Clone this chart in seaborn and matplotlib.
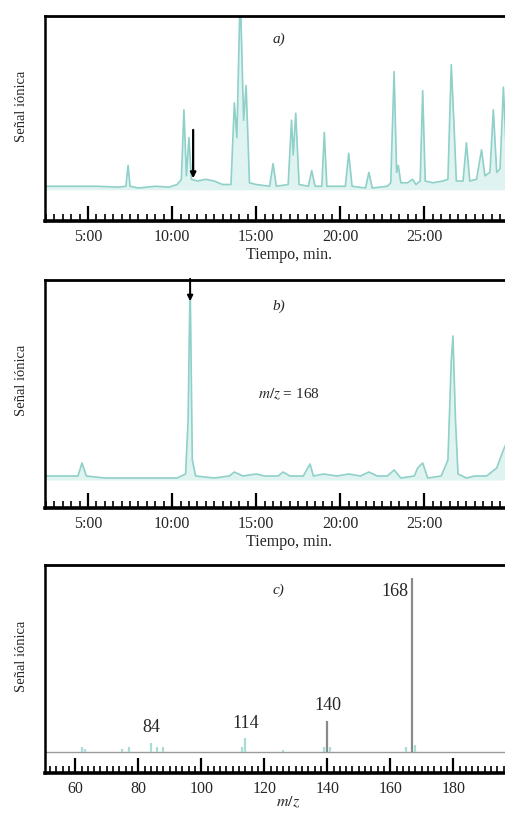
"""
Chromatograms (a, b) and mass spectrum (c) - Señal iónica.
"""

import matplotlib.pyplot as plt
import matplotlib.ticker as mticker
import pandas as pd
import seaborn as sns

# --- panel a: total ion chromatogram (time in min, relative signal)
tic_time = [2.5, 4.0, 5.5, 6.8, 7.25, 7.38, 7.5, 8.0, 9.0, 9.8, 10.3, 10.55, 10.7,
            10.85, 11.0, 11.15, 11.5, 12.0, 12.5, 13.0, 13.5, 13.7, 13.85, 14.05,
            14.25, 14.4, 14.6, 15.0, 15.8, 16.0, 16.2, 16.9, 17.1, 17.2, 17.35,
            17.55, 18.1, 18.3, 18.5, 18.9, 19.05, 19.2, 20.3, 20.5, 20.7, 21.5,
            21.7, 21.9, 22.8, 23.0, 23.2, 23.35, 23.45, 23.6, 24.0, 24.3, 24.5,
            24.75, 24.9, 25.05, 25.5, 26.1, 26.4, 26.6, 26.75, 26.9, 27.3, 27.5,
            27.7, 28.1, 28.4, 28.6, 28.9, 29.1, 29.3, 29.5, 29.7, 29.9, 30.3, 31.3]
tic_signal = [2, 2, 2, 1.5, 2, 14, 2, 1, 2, 1.5, 3, 6, 46,
              8, 30, 6, 5, 6, 5, 3, 3, 50, 30, 115,
              40, 60, 4, 3, 2, 15, 2, 3, 40, 20, 44,
              3, 2, 11, 2, 2, 33, 2, 2, 21, 2, 1,
              10, 1, 2, 4, 68, 10, 14, 4, 4, 6, 3,
              5, 57, 5, 4, 5, 6, 72, 40, 5, 5, 27,
              5, 6, 23, 8, 10, 46, 10, 12, 59, 15, 20, 20]

# --- panel b: extracted ion chromatogram m/z = 168
eic_time = [2.5, 4.4, 4.64, 4.9, 6.0, 8.0, 10.3, 10.8, 10.95, 11.07, 11.2, 11.4,
            12.5, 13.4, 13.7, 14.2, 15.0, 15.5, 16.3, 16.6, 17.0, 17.8, 18.2,
            18.4, 19.0, 19.8, 20.5, 21.2, 21.7, 22.2, 22.8, 23.2, 23.6, 24.4,
            24.6, 24.9, 25.2, 26.0, 26.4, 26.6, 26.7, 26.85, 27.0, 27.5, 28.0,
            28.7, 29.3, 29.7, 30.2, 31.3]
eic_signal = [2, 2, 8.5, 2, 1, 1, 1, 3, 30, 100, 10, 2,
              1, 2, 4, 2, 3, 2, 2, 4, 2, 2, 8,
              2, 3, 2, 3, 2, 4, 2, 2, 5, 1, 2,
              6, 8.5, 1, 2, 10, 60, 72, 30, 3, 1, 2,
              2, 6, 15, 25, 30]

# --- panel c: mass spectrum
mz = [62, 63, 75, 77, 84, 86, 88, 113, 114, 126, 139, 140, 141, 165, 167, 168]
intensity = [3, 2, 2, 3, 5, 3, 3, 3, 8, 1, 3, 18, 3, 3, 100, 4]
labelled_mz = [84, 114, 140, 168]
labelled_at = [84.2, 114, 140.2, 161.5]
labelled_y = [14.4, 16.7, 27, 92]

TIME_TICKS = [5, 10, 15, 20, 25]
TIME_LABELS = ["5:00", "10:00", "15:00", "20:00", "25:00"]
MZ_TICKS = [60, 80, 100, 120, 140, 160, 180]

sns.set_theme(style="ticks")
plt.rcParams["font.family"] = ["Liberation Serif", "DejaVu Serif"]
plt.rcParams["mathtext.fontset"] = "stix"

TRACE = "#8fd0c8"
FILL = "#dff3f1"
W, H = 505, 813


def frame(ax, xlabel, labelpad=1):
    for side in ["top", "bottom", "left", "right"]:
        ax.spines[side].set_color("black")
    ax.spines["top"].set_linewidth(2.0)
    ax.spines["bottom"].set_linewidth(2.6)
    ax.spines["left"].set_linewidth(1.8)
    ax.set_yticks([])
    ax.tick_params(axis="x", which="major", direction="in", length=11, width=1.6,
                   color="black", labelsize=11.5, pad=6, top=False)
    ax.tick_params(axis="x", which="minor", direction="in", length=5, width=1.2,
                   color="black", top=False)
    ax.set_xlabel(xlabel, fontsize=11.5, labelpad=labelpad)
    ax.set_ylabel("Señal iónica", fontsize=10.5)
    ax.yaxis.set_label_coords(-0.035, 0.56)
    ax.grid(False)


def axes_at(fig, top_px, bottom_px):
    left = 45 / W
    width = (532 - 45) / W
    return fig.add_axes([left, 1 - bottom_px / H, width, (bottom_px - top_px) / H])


def chromatogram(ax, t, s, ylim, tag):
    df = pd.DataFrame({"t": t, "s": s})
    ax.fill_between(df["t"], 0, df["s"], color=FILL, lw=0)
    sns.lineplot(data=df, x="t", y="s", ax=ax, color=TRACE, lw=1.2,
                 estimator=None, sort=False)
    ax.set_xlim(2.44, 31.4)
    ax.set_ylim(*ylim)
    ax.set_xticks(TIME_TICKS, TIME_LABELS)
    ax.xaxis.set_minor_locator(mticker.MultipleLocator(0.5))
    ax.text(0.48, 0.87, tag, transform=ax.transAxes, style="italic",
            fontsize=11, ha="center")
    frame(ax, "Tiempo, min.")


fig = plt.figure(figsize=(W / 100, H / 100), dpi=100)
fig.patch.set_facecolor("white")

ax_a = axes_at(fig, 16, 221)
chromatogram(ax_a, tic_time, tic_signal, (-18, 100), "a)")
ax_a.annotate("", xy=(11.25, 5), xytext=(11.25, 36),
              arrowprops=dict(arrowstyle="-|>", color="black", lw=1.6,
                              mutation_scale=8))

ax_b = axes_at(fig, 280, 508)
chromatogram(ax_b, eic_time, eic_signal, (-14, 100), "b)")
ax_b.annotate("", xy=(11.07, 88), xytext=(11.07, 102),
              arrowprops=dict(arrowstyle="-|>", color="black", lw=1.4,
                              mutation_scale=8), annotation_clip=False)
ax_b.text(0.5, 0.5, r"$m/z$ = 168", transform=ax_b.transAxes, fontsize=11,
          ha="center", va="center")

ax_c = axes_at(fig, 565, 773)
spec = pd.DataFrame({"mz": mz, "i": intensity})
ax_c.axhline(0, color="#9a9a9a", lw=1.0)
ax_c.vlines(spec["mz"], 0, spec["i"],
            colors=["#8a8a8a" if v > 10 else "#a8dcd4" for v in spec["i"]], lw=1.6)
for m, x, y in zip(labelled_mz, labelled_at, labelled_y):
    ax_c.text(x, y, str(m), fontsize=13, ha="center", va="center")
ax_c.set_xlim(50.4, 205)
ax_c.set_ylim(-12, 107.5)
ax_c.set_xticks(MZ_TICKS)
ax_c.xaxis.set_minor_locator(mticker.MultipleLocator(2))
ax_c.text(0.48, 0.86, "c)", transform=ax_c.transAxes, style="italic",
          fontsize=11, ha="center")
frame(ax_c, r"$m/z$", labelpad=-2)

fig.savefig("out.png", dpi=100)
